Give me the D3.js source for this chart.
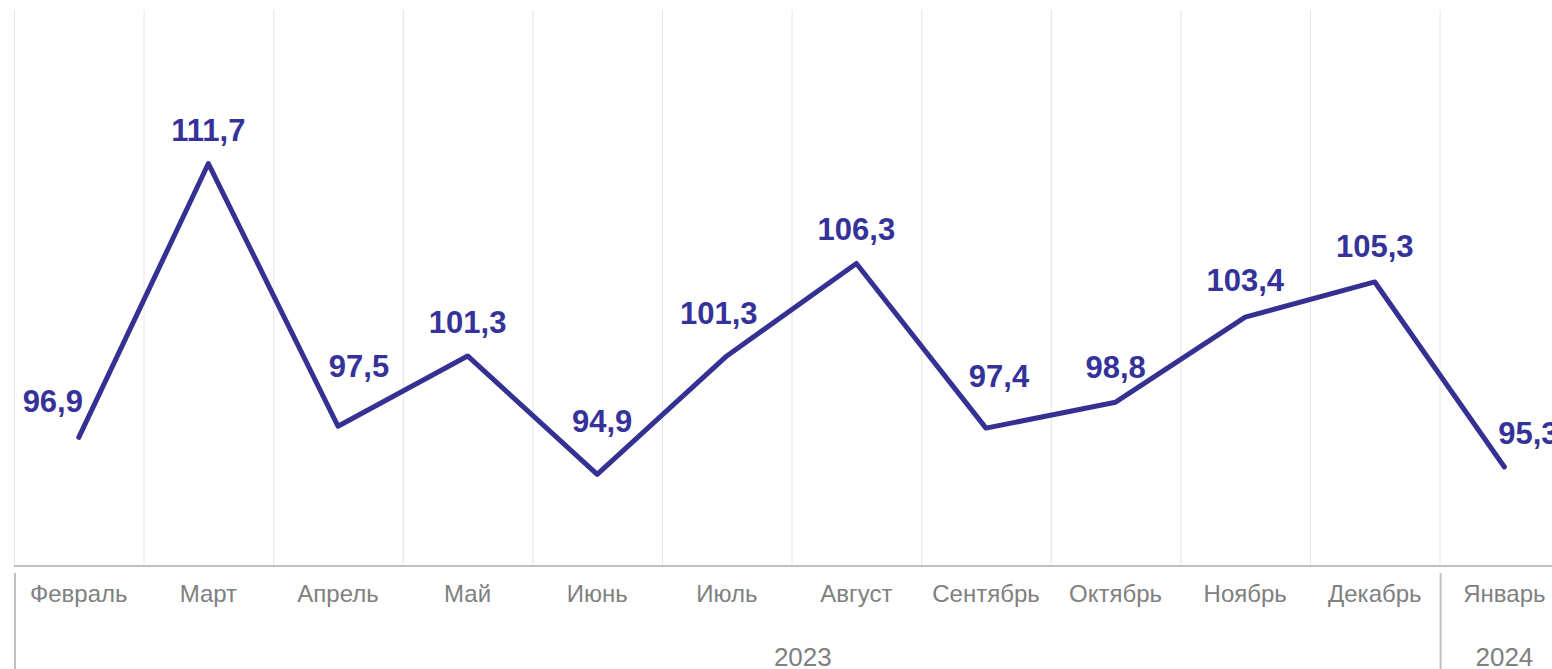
<!DOCTYPE html>
<html>
<head>
<meta charset="utf-8">
<script src="https://cdn.jsdelivr.net/npm/d3@7"></script>
<style>
  body { margin: 0; background: #fff; }
  svg { display: block; font-family: "Liberation Sans", Arial, sans-serif; }
</style>
</head>
<body>
<div id="chart"></div>
<script>
var months = ["Февраль", "Март", "Апрель", "Май", "Июнь", "Июль", "Август", "Сентябрь", "Октябрь", "Ноябрь", "Декабрь", "Январь"];
var values = [96.9, 111.7, 97.5, 101.3, 94.9, 101.3, 106.3, 97.4, 98.8, 103.4, 105.3, 95.3];
var years = ["2023", "2024"];
var yearStart = [0, 11];
var yearEnd = [10, 11];

// label nudges (dx, dy from the point to the label centre)
var labelDx = [-26, 0, 21, 0, 5, -8, 0, 13, 0, 0, 0, 24];
var labelDy = [-37, -34, -60, -34, -54, -43, -35, -52, -35, -37, -36, -34];

var svgWidth = 1552;
var svgHeight = 669;

var svg = d3.select("#chart")
  .append("svg")
  .attr("width", svgWidth)
  .attr("height", svgHeight);

var plotLeft = 14;
var step = 129.6;
var plotTop = 10;
var plotBottom = 565;

var x = d3.scaleBand()
  .domain(months)
  .range([plotLeft, plotLeft + step * months.length])
  .padding(0);

var y = d3.scaleLinear()
  .domain([90, 120])
  .range([plotBottom, plotTop]);

// vertical gridlines
svg.append("g")
  .selectAll("line")
  .data(months)
  .enter()
  .append("line")
  .attr("x1", d => x(d) + 0.5)
  .attr("x2", d => x(d) + 0.5)
  .attr("y1", plotTop)
  .attr("y2", plotBottom)
  .attr("stroke", "#e4e4e4")
  .attr("stroke-width", 1);

// category axis line
svg.append("line")
  .attr("x1", plotLeft)
  .attr("x2", svgWidth)
  .attr("y1", plotBottom + 1)
  .attr("y2", plotBottom + 1)
  .attr("stroke", "#c0c0c0")
  .attr("stroke-width", 2);

// month labels
svg.append("g")
  .selectAll("text")
  .data(months)
  .enter()
  .append("text")
  .attr("x", d => x(d) + x.bandwidth() / 2)
  .attr("y", 602)
  .attr("text-anchor", "middle")
  .attr("font-size", "24px")
  .attr("fill", "#808080")
  .text(d => d);

// year group separators
svg.append("g")
  .selectAll("line")
  .data(yearStart)
  .enter()
  .append("line")
  .attr("x1", d => x(months[d]) + 1)
  .attr("x2", d => x(months[d]) + 1)
  .attr("y1", 573)
  .attr("y2", svgHeight)
  .attr("stroke", "#c0c0c0")
  .attr("stroke-width", 2);

// year labels
var yearShift = [76, 0];
svg.append("g")
  .selectAll("text")
  .data(years)
  .enter()
  .append("text")
  .attr("x", (d, i) => (x(months[yearStart[i]]) + x(months[yearEnd[i]]) + x.bandwidth()) / 2 + yearShift[i])
  .attr("y", 666)
  .attr("text-anchor", "middle")
  .attr("font-size", "26px")
  .attr("fill", "#808080")
  .text(d => d);

// the line
var line = d3.line()
  .x((d, i) => x(months[i]) + x.bandwidth() / 2)
  .y(d => y(d));

svg.append("path")
  .datum(values)
  .attr("d", line)
  .attr("fill", "none")
  .attr("stroke", "#343193")
  .attr("stroke-width", 5)
  .attr("stroke-linejoin", "round")
  .attr("stroke-linecap", "round");

// value labels
svg.append("g")
  .selectAll("text")
  .data(values)
  .enter()
  .append("text")
  .attr("x", (d, i) => x(months[i]) + x.bandwidth() / 2 + labelDx[i])
  .attr("y", (d, i) => y(d) + labelDy[i])
  .attr("dy", "0.36em")
  .attr("text-anchor", "middle")
  .attr("font-size", "31px")
  .attr("font-weight", "bold")
  .attr("fill", "#35339a")
  .text(d => d.toFixed(1).replace(".", ","));
</script>
</body>
</html>
